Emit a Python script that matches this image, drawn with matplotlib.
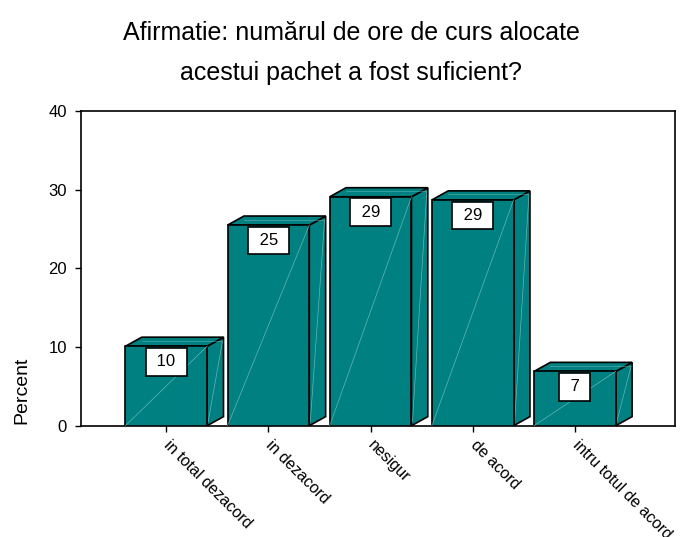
import matplotlib
matplotlib.use("Agg")
import matplotlib.pyplot as plt
from matplotlib.patches import Polygon, Rectangle
import numpy as np

plt.rcParams['font.family'] = ['Liberation Sans', 'DejaVu Sans']

title_lines = ["Afirmatie: numărul de ore de curs alocate",
               "acestui pachet a fost suficient?"]
categories = ["in total dezacord", "in dezacord", "nesigur", "de acord",
              "intru totul de acord"]
percent = [10.1, 25.5, 29.1, 28.7, 6.9]
bar_labels = ["10", "25", "29", "29", "7"]

teal = "#008080"
faint = "#7fc4c4"
half_w = 0.40     # half width of the front face
dx, dy = 0.16, 1.15   # depth offset of the 3d box (x in categories, y in percent)

fig = plt.figure(figsize=(6.82, 5.37), dpi=100)
ax = fig.add_axes([81 / 682, 111.3 / 537, 594 / 682, 314.7 / 537])

x = np.arange(len(categories))
for xi, v, lab in zip(x, percent, bar_labels):
    l, r = xi - half_w, xi + half_w
    # side face
    side = Polygon([(r, 0), (r + dx, dy), (r + dx, v + dy), (r, v)],
                   closed=True, facecolor=teal, edgecolor="black", lw=1.2, zorder=2)
    # top face
    top = Polygon([(l, v), (l + dx, v + dy), (r + dx, v + dy), (r, v)],
                  closed=True, facecolor=teal, edgecolor="black", lw=1.2, zorder=2)
    front = Rectangle((l, 0), r - l, v, facecolor=teal, edgecolor="black",
                      lw=1.2, zorder=3)
    ax.add_patch(side)
    ax.add_patch(top)
    ax.add_patch(front)
    # faint rendering lines, like the spss export
    ax.plot([l, r], [0, v], color=faint, lw=0.5, alpha=0.8, zorder=3.5)
    ax.plot([r + 0.01, r + dx - 0.01], [0.5, v + dy - 0.5], color=faint, lw=0.5,
            alpha=0.8, zorder=2.5)
    ax.plot([l + dx, r + dx - 0.02], [v + dy * 0.6, v + dy * 0.6], color=faint,
            lw=0.5, alpha=0.6, zorder=2.5)
    ax.annotate(" %s " % lab, xy=(xi, v), xytext=(0, -8), textcoords="offset pixels",
                ha="center", va="top", fontsize=12, zorder=5,
                bbox=dict(boxstyle="square,pad=0.38", facecolor="white",
                          edgecolor="black", lw=1.2))

ax.set_xlim(-0.835, 4.98)
ax.set_ylim(0, 40)
ax.set_yticks([0, 10, 20, 30, 40])
ax.set_xticks(x)
ax.set_xticklabels(categories, rotation=-45, ha="left", va="center",
                   rotation_mode="anchor", fontsize=11.5)
ax.tick_params(axis="both", direction="out", length=4, width=1, colors="black")
ax.tick_params(axis="y", labelsize=12, pad=6)
ax.tick_params(axis="x", pad=8)
for s in ax.spines.values():
    s.set_linewidth(1.2)

ax.set_ylabel("Percent", fontsize=14, va="center")
ax.yaxis.set_label_coords(-0.100, 0.113)

fig.text(0.515, 1 - 33 / 537, title_lines[0], ha="center", va="center", fontsize=18)
fig.text(0.515, 1 - 73 / 537, title_lines[1], ha="center", va="center", fontsize=18)

fig.savefig("out.png", dpi=100)
